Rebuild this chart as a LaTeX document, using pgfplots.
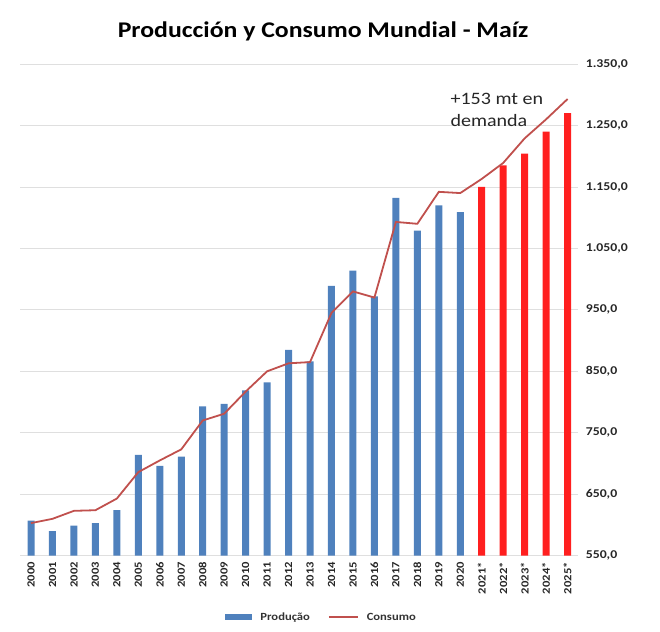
\documentclass[border=0pt]{standalone}
\usepackage{pgfplots}
\pgfplotsset{compat=1.18}
\usepackage{fontspec}
\setmainfont{Carlito}[FakeStretch=1.15]
\definecolor{barblue}{HTML}{4F81BD}
\definecolor{barred}{HTML}{FF1F1F}
\definecolor{linered}{HTML}{C0504D}
\begin{document}
\begin{tikzpicture}
\path[use as bounding box] (0,0) rectangle (660bp,632bp);
\begin{axis}[
  at={(20.3bp,76.3bp)}, anchor=south west,
  scale only axis, width=558bp, height=491.7bp,
  xmin=-0.5, xmax=25.5, ymin=550, ymax=1350,
  ytick={550,650,...,1350},
  xtick={0,...,25},
  xticklabels={2000,2001,2002,2003,2004,2005,2006,2007,2008,2009,2010,2011,2012,2013,2014,2015,2016,2017,2018,2019,2020,2021*,2022*,2023*,2024*,2025*},
  xticklabel style={rotate=90, anchor=east, font=\bfseries\fontsize{11}{11}\selectfont, text=black!85},
  xticklabel shift={3bp},
  yticklabel pos=right,
  yticklabel style={anchor=west, xshift=4bp, font=\bfseries\fontsize{12}{12}\selectfont, text=black!85},
  scaled y ticks=false,
  /pgf/number format/.cd, fixed, fixed zerofill, precision=1, use comma, 1000 sep={.}, assume math mode=true,
  /pgfplots/.cd,
  ymajorgrids, grid style={draw=gray!25, line width=0.8bp},
  axis line style={draw=none}, tick style={draw=none},
  legend style={at={(0.54,-0.125)}, anchor=center, draw=none, fill=none, legend columns=2,
    font=\bfseries\fontsize{11}{11}\selectfont, text=black!80,
    /tikz/every odd column/.append style={column sep=6bp},
    /tikz/every even column/.append style={column sep=16bp}},
]
\addplot[ybar, bar width=7bp, bar shift=0pt, fill=barblue, draw=none,
  legend image code/.code={\fill[barblue] (0bp,-3bp) rectangle (27bp,3bp);}]
  coordinates {(0,607)(1,590)(2,599)(3,603)(4,624)(5,714)(6,696)(7,711)(8,793)(9,797)(10,819)(11,832)(12,885)(13,866)(14,989)(15,1014)(16,972)(17,1132)(18,1079)(19,1120)(20,1109)};
\addlegendentry{Produção}
\addplot[ybar, bar width=7bp, bar shift=0pt, fill=barred, draw=none, forget plot]
  coordinates {(21,1150)(22,1185)(23,1204)(24,1240)(25,1270)};
\addplot[sharp plot, color=linered, line width=1.8bp, mark=none,
  legend image code/.code={\draw[linered, line width=1.8bp] (0bp,0bp) -- (29bp,0bp);}]
  coordinates {(0,603)(1,610)(2,623)(3,624)(4,643)(5,686)(6,705)(7,723)(8,770)(9,781)(10,817)(11,850)(12,863)(13,865)(14,945)(15,980)(16,970)(17,1093)(18,1090)(19,1142)(20,1140)(21,1163)(22,1189)(23,1229)(24,1260)(25,1293)};
\addlegendentry{Consumo}
\end{axis}
\node[anchor=base, font=\bfseries\fontsize{22.5}{22.5}\selectfont] at (323bp,594bp) {Producción y Consumo Mundial - Maíz};
\node[anchor=base west, font=\fontsize{17.5}{17.5}\selectfont, text=black!85] at (447bp,527bp) {+153 mt en};
\node[anchor=base west, font=\fontsize{17.5}{17.5}\selectfont, text=black!85] at (447bp,505bp) {demanda};
\end{tikzpicture}
\end{document}
